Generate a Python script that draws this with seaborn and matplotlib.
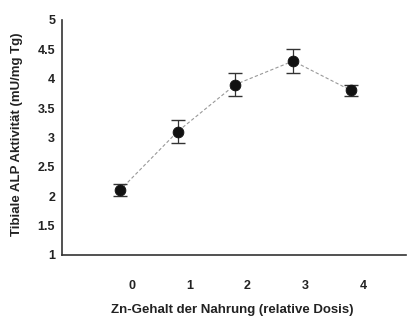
import matplotlib
matplotlib.use("Agg")
import matplotlib.pyplot as plt
from matplotlib.ticker import MultipleLocator, FixedLocator, NullFormatter, FixedFormatter
import seaborn as sns
import pandas as pd

dose = [0, 1, 2, 3, 4]
alp = [2.1, 3.1, 3.9, 4.3, 3.8]
err = [0.1, 0.2, 0.2, 0.2, 0.1]
x_labels = ["0", "1", "2", "3", "4"]

sns.set_style("white")
plt.rcParams['font.family'] = ['Liberation Sans', 'DejaVu Sans']

df = pd.DataFrame({"dose": dose, "alp": alp, "err": err})

fig = plt.figure(figsize=(4.09, 3.21), dpi=100)
ax = fig.add_axes([0.152, 0.206, 0.84, 0.732])

sns.lineplot(data=df, x="dose", y="alp", ax=ax, color="#999999", lw=0.8,
             linestyle=(0, (3, 2)), zorder=2)
ax.errorbar(df["dose"], df["alp"], yerr=df["err"], fmt="none", ecolor="#333333",
            elinewidth=0.9, capsize=5, capthick=1.0, zorder=3)
sns.scatterplot(data=df, x="dose", y="alp", ax=ax, color="#111111", s=60,
                edgecolor="#111111", zorder=4)

ax.set_xlim(-1.0, 4.95)
ax.set_ylim(1, 5)

ax.yaxis.set_major_locator(MultipleLocator(0.5))
ax.yaxis.set_minor_locator(MultipleLocator(0.1))
ax.set_yticklabels([("%g" % v) for v in ax.get_yticks()])
ax.tick_params(axis="y", which="major", direction="in", length=4, width=0.8,
               labelsize=9, pad=5, colors="#222222")
ax.tick_params(axis="y", which="minor", direction="in", length=2, width=0.6)
for lab in ax.get_yticklabels():
    lab.set_fontweight("bold")

# ticks at the doses, labels slightly offset to the right as in the source
ax.xaxis.set_major_locator(FixedLocator(dose))
ax.xaxis.set_major_formatter(NullFormatter())
ax.xaxis.set_minor_locator(FixedLocator([d + 0.21 for d in dose]))
ax.xaxis.set_minor_formatter(FixedFormatter(x_labels))
ax.tick_params(axis="x", which="major", direction="in", length=4, width=0.8)
ax.tick_params(axis="x", which="minor", length=0, pad=18, labelsize=9,
               colors="#222222")
for lab in ax.xaxis.get_minorticklabels():
    lab.set_fontweight("bold")

for s in ["top", "right"]:
    ax.spines[s].set_visible(False)
for s in ["left", "bottom"]:
    ax.spines[s].set_color("#333333")
    ax.spines[s].set_linewidth(1.2)

ax.set_xlabel("Zn-Gehalt der Nahrung (relative Dosis)", fontsize=9.5,
              fontweight="bold", color="#222222")
ax.set_ylabel("Tibiale ALP Aktivität (mU/mg Tg)", fontsize=9.5,
              fontweight="bold", color="#222222")
ax.xaxis.set_label_coords(0.495, -0.21)
ax.yaxis.set_label_coords(-0.115, 0.515)

fig.savefig("out.png", dpi=100, facecolor="white")
